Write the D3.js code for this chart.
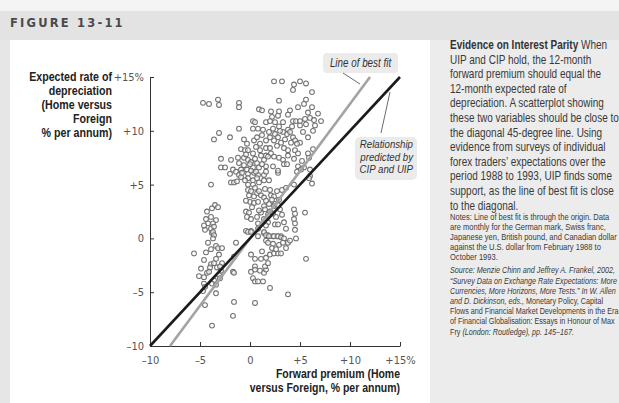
<!DOCTYPE html>
<html>
<head>
<meta charset="utf-8">
<script src="https://cdn.jsdelivr.net/npm/d3@7/dist/d3.min.js"></script>
<style>
  body { margin: 0; background: #fff; }
  svg { display: block; }
</style>
</head>
<body>
<script>
// Survey observations: [forward premium, expected depreciation], % per annum
const surveyPoints = [
  [2.4,14.6],[3.2,14.6],[4.4,14.3],[4.3,13.8],[5.0,14.6],[5.6,14.4],[6.2,13.6],
  [-4.7,12.6],[-4.1,12.5],[-3.2,12.9],[-3.1,12.4],[-1.1,12.6],[-1.1,12.2],[2.9,12.8],
  [5.6,12.9],[5.4,12.5],[4.8,12.2],[6.2,12.2],[0.9,12.0],[1.2,11.9],[2.1,11.8],[2.9,11.8],
  [2.2,11.3],[2.8,11.4],[3.8,11.5],[0.3,10.9],[0.5,10.8],[1.6,10.8],[2.0,10.9],[2.5,10.8],
  [3.3,10.8],[4.3,10.9],[4.6,10.9],[5.0,10.9],[5.5,11.1],[6.0,11.2],[6.4,11.0],[7.1,10.9],
  [5.0,10.5],[5.6,10.6],[6.5,10.5],[6.3,10.0],[-1.1,10.2],[0.3,10.2],[0.8,10.2],[1.3,10.1],
  [2.3,10.2],[2.9,10.4],[3.8,10.1],[-3.1,9.8],[-3.6,9.2],[-2.0,9.4],[-0.6,9.2],[0.4,9.1],
  [0.7,9.4],[1.6,9.1],[2.5,9.7],[2.4,9.1],[2.8,9.4],[3.1,8.9],[3.7,9.7],[4.3,9.4],[4.5,9.1],
  [5.0,8.9],[5.8,9.4],[4.1,8.9],[4.7,8.8],[1.0,8.8],[1.6,8.4],[2.0,8.4],[2.7,8.6],[3.4,8.4],
  [3.8,8.2],[4.5,8.2],[-0.9,8.3],[-0.5,8.2],[-0.2,8.2],[1.0,8.2],[0.3,7.9],[1.6,7.7],
  [2.1,7.9],[2.4,7.6],[3.8,7.7],[4.8,7.9],[5.8,7.9],[5.9,7.5],[-2.9,7.4],[-1.9,7.3],
  [-1.2,7.5],[-0.6,7.5],[-0.2,7.3],[-1.1,7.0],[-0.6,6.8],[0.1,7.1],[0.7,7.0],[1.4,7.3],
  [1.8,7.6],[2.9,7.5],[3.3,7.3],[3.4,6.9],[3.7,6.9],[-2.9,6.6],[-2.5,6.6],[-1.7,6.4],
  [-1.4,6.2],[-0.9,6.4],[-0.3,6.4],[0.3,6.6],[0.9,6.6],[1.6,6.7],[2.3,6.7],[-2.0,6.0],
  [-1.1,5.9],[-0.9,5.7],[-0.2,6.0],[0.4,6.1],[0.8,5.9],[1.4,5.9],[1.6,6.2],[2.8,6.1],
  [4.8,6.7],[5.4,6.6],[4.7,6.2],[5.1,6.4],[6.0,6.4],[6.0,5.8],[6.2,5.1],[5.9,5.6],
  [-1.9,5.2],[-1.6,5.2],[-1.3,5.3],[-0.2,5.6],[0.3,5.4],[0.7,5.6],[1.4,5.4],[1.9,5.4],
  [2.8,6.3],[-3.9,5.0],[-0.2,5.0],[0.3,5.0],[-0.2,4.5],[0.1,4.4],[0.5,4.7],[0.7,4.2],
  [-0.1,4.0],[0.4,3.9],[1.1,4.0],[1.4,3.8],[2.1,4.0],[2.7,4.4],[3.2,4.5],[3.6,4.7],
  [2.4,3.9],[2.9,3.6],[0.0,3.4],[0.4,3.3],[0.8,3.4],[1.4,3.0],[1.9,3.2],[2.5,3.2],
  [2.4,3.0],[2.8,3.1],[4.4,5.0],[4.4,2.7],[4.5,2.3],[4.4,1.8],[4.5,1.4],[5.5,2.4],
  [-3.5,3.1],[-3.2,2.9],[-4.3,2.5],[-3.9,2.0],[-4.4,1.8],[-3.4,1.7],[-4.2,1.4],[-3.7,1.4],
  [-4.5,0.8],[-3.9,0.9],[-3.6,1.1],[-3.8,0.5],[-0.4,2.5],[-0.1,2.4],[-0.3,2.0],[0.1,1.8],
  [0.7,2.0],[1.1,2.4],[1.5,2.7],[2.0,2.5],[1.8,2.2],[2.3,2.3],[1.4,1.8],[1.8,1.5],
  [2.5,1.3],[2.8,1.3],[3.4,1.5],[0.8,1.4],[1.6,1.2],[-0.4,0.7],[0.1,0.7],[0.8,0.9],
  [1.4,0.5],[1.8,0.3],[2.3,0.2],[2.7,0.2],[3.1,0.2],[3.6,0.9],[4.5,0.8],
  [-3.7,0.6],[-3.6,0.3],[-3.7,0.0],[-0.2,0.6],[0.1,0.6],[1.4,0.6],[1.6,0.3],[1.9,0.2],
  [2.4,0.2],[2.8,0.2],[3.1,0.1],[3.4,0.0],[1.6,-0.2],[1.8,-0.4],[2.3,-0.5],[2.9,-0.6],
  [3.3,-0.4],[3.8,-0.4],[4.6,0.0],[0.8,0.2],[-1.4,-0.4],[-3.4,-0.7],[-3.2,-0.9],
  [-2.8,-0.9],[-5.6,-1.4],[-4.4,-1.3],[-3.1,-1.5],[-1.6,-1.7],[0.1,-1.5],[0.5,-1.9],
  [1.1,-1.9],[1.6,-1.8],[2.0,-1.5],[2.4,-1.4],[2.8,-1.4],[3.1,-1.4],[5.6,-1.9],
  [-3.9,-2.4],[-3.6,-2.3],[-2.8,-2.3],[-4.0,-2.7],[-3.3,-2.7],[-3.0,-2.6],[-5.1,-3.5],
  [-4.6,-3.6],[-4.3,-3.2],[-4.1,-3.1],[-3.1,-3.4],[-3.0,-3.7],[-3.6,-3.9],[-4.6,-4.2],
  [-4.5,-4.5],[-4.7,-4.9],[-3.8,-4.2],[-3.4,-4.3],[-3.4,-5.1],[-4.5,-6.2],[-1.7,-3.1],
  [-1.6,-3.2],[0.1,-3.1],[0.5,-2.6],[0.5,-2.9],[1.0,-3.0],[1.4,-3.2],[1.6,-2.9],
  [1.5,-2.6],[1.8,-2.3],[0.3,-3.7],[0.5,-4.0],[0.8,-4.0],[1.3,-4.0],[2.0,-4.6],
  [3.8,-5.2],[-1.6,-5.9],[0.5,-6.0],[-1.7,-7.2],[-3.8,-8.1],
  // denser core, second reading
  [-0.4,7.8],[0.0,6.9],[0.5,7.4],[-0.8,6.1],[0.1,6.3],[0.6,6.2],[-0.5,5.4],[0.9,5.2],
  [1.2,6.9],[1.1,7.7],[0.6,8.5],[-0.3,8.8],[1.9,9.9],[3.3,9.9],[3.5,9.2],[4.0,9.9],
  [4.2,10.4],[3.0,10.0],[2.0,9.4],[1.2,9.6],[0.2,2.9],[0.9,2.6],[1.6,3.5],[2.2,3.6],
  [2.0,4.5],[1.5,4.6],[0.9,4.4],[-0.4,3.5],[3.0,2.7],[2.6,2.0],[3.2,2.2],[2.2,-0.9],
  [2.6,-1.0],[3.6,-0.9],[1.2,-1.2],[4.0,-0.2],[-4.2,-0.4],[-3.9,-1.0],[-4.6,-2.0],
  [-3.4,-1.9],[-2.9,-3.0],[-4.9,-2.8],[-3.8,2.8],[-4.6,1.2],[5.2,7.2],[4.4,7.4],
  [6.3,8.3],[5.3,9.9],[4.0,11.9],[5.8,11.7],[6.8,11.6]
];

const xTicks = [-10, -5, 0, 5, 10, 15];
const yTicks = [-10, -5, 0, 5, 10, 15];
const bestFitSlope = 1.25;          // line of best fit, through the origin
const bestFitRange = [-8, 12];      // forward premium span of the grey line
const diagonalRange = [-10, 15];    // 45-degree line, CIP and UIP

const yTitle = ["Expected rate of", "depreciation", "(Home versus", "Foreign", "% per annum)"];
const xTitle = ["Forward premium (Home", "versus Foreign, % per annum)"];
const fitLabel = ["Line of best fit"];
const diagLabel = ["Relationship", "predicted by", "CIP and UIP"];

const captionLines = [
  "UIP and CIP hold, the 12-month",
  "forward premium should equal the",
  "12-month expected rate of",
  "depreciation. A scatterplot showing",
  "these two variables should be close to",
  "the diagonal 45-degree line. Using",
  "evidence from surveys of individual",
  "forex traders’ expectations over the",
  "period 1988 to 1993, UIP finds some",
  "support, as the line of best fit is close",
  "to the diagonal."
];
const noteLines = [
  "Notes: Line of best fit is through the origin. Data",
  "are monthly for the German mark, Swiss franc,",
  "Japanese yen, British pound, and Canadian dollar",
  "against the U.S. dollar from February 1988 to",
  "October 1993."
];
// each source line is a list of [text, italic?] runs
const sourceLines = [
  [["Source: Menzie Chinn and Jeffrey A. Frankel, 2002,", true]],
  [["“Survey Data on Exchange Rate Expectations: More", true]],
  [["Currencies, More Horizons, More Tests.” In W. Allen", true]],
  [["and D. Dickinson, eds., ", true], ["Monetary Policy, Capital", false]],
  [["Flows and Financial Market Developments in the Era", false]],
  [["of Financial Globalisation: Essays in Honour of Max", false]],
  [["Fry ", false], ["(London: Routledge), pp. 145–167.", true]]
];

const W = 619, H = 403;
const FONT = "'Liberation Sans', Arial, sans-serif";
const NARROW = 0.82;   // horizontal squeeze to mimic the book's condensed face

const svg = d3.select("body").append("svg")
    .attr("width", W)
    .attr("height", H)
    .style("font-family", FONT);

// page background: header band, side strip, white plot panel, grey caption panel
svg.append("rect").attr("x", 0).attr("y", 0).attr("width", W).attr("height", H).attr("fill", "#f4f4f4");
svg.append("rect").attr("x", 0).attr("y", 11).attr("width", W).attr("height", 29).attr("fill", "#e3e3e3");
svg.append("rect").attr("x", 0).attr("y", 40).attr("width", 10).attr("height", H - 40).attr("fill", "#e6e6e6");
svg.append("rect").attr("x", 10).attr("y", 40).attr("width", 420).attr("height", H - 40).attr("fill", "#ffffff");
svg.append("rect").attr("x", 430).attr("y", 40).attr("width", W - 430).attr("height", H - 40).attr("fill", "#ececec");

svg.append("text")
    .attr("x", 10)
    .attr("y", 27)
    .attr("font-family", "'DejaVu Sans', sans-serif")
    .attr("font-weight", "bold")
    .attr("font-size", 11.5)
    .attr("letter-spacing", 2.2)
    .attr("fill", "#4a4a4a")
    .text("FIGURE 13-11");

// block of lines, squeezed horizontally around its anchor x
function narrowBlock(ax, y0, step, lines, opts) {
    const g = svg.append("g").attr("transform", `translate(${ax},0) scale(${NARROW},1)`);
    const t = g.append("text")
        .attr("text-anchor", opts.anchor || "start")
        .attr("font-size", opts.size)
        .attr("font-weight", opts.weight || "normal")
        .attr("font-style", opts.style || "normal")
        .attr("fill", opts.fill || "#333");
    t.selectAll("tspan")
        .data(lines)
        .join("tspan")
        .attr("x", 0)
        .attr("y", (d, i) => y0 + i * step)
        .text(d => d);
    return g;
}

// Scales
const x = d3.scaleLinear().domain([-10, 15]).range([150, 400]);
const y = d3.scaleLinear().domain([-10, 15]).range([346, 77]);

const fmt = (d, last) => {
    let s = d > 0 ? "+" + d : d < 0 ? "–" + Math.abs(d) : "0";
    return last ? s + "%" : s;
};

// Axes (ticks point inwards)
const xAxis = d3.axisBottom(x).tickValues(xTicks).tickSizeInner(-4).tickSizeOuter(0)
    .tickFormat(d => fmt(d, d === 15));
const yAxis = d3.axisLeft(y).tickValues(yTicks).tickSizeInner(-4).tickSizeOuter(0)
    .tickFormat(d => fmt(d, d === 15));

const gx = svg.append("g").attr("transform", `translate(0,${y(-10)})`).call(xAxis);
const gy = svg.append("g").attr("transform", `translate(${x(-10)},0)`).call(yAxis);

[gx, gy].forEach(g => {
    g.select(".domain").attr("stroke", "#333").attr("stroke-width", 1);
    g.selectAll(".tick line").attr("stroke", "#333");
    g.selectAll(".tick text")
        .attr("font-family", "'DejaVu Sans Condensed', 'DejaVu Sans', sans-serif")
        .attr("font-size", 11)
        .attr("fill", "#555");
});
gx.selectAll(".tick text").attr("y", 10);
gy.selectAll(".tick text").attr("x", -6);
gx.select(".tick:first-of-type line").remove();
gy.select(".tick:first-of-type line").remove();

// Axis titles
narrowBlock(112, 81.5, 13.9, yTitle, { anchor: "end", size: 13, weight: "bold", fill: "#222" });
narrowBlock(400, 378, 14, xTitle, { anchor: "end", size: 12.8, weight: "bold", fill: "#222" });

// Scatter
svg.append("g")
    .selectAll("circle")
    .data(surveyPoints)
    .join("circle")
    .attr("cx", d => x(d[0]))
    .attr("cy", d => y(d[1]))
    .attr("r", 2.4)
    .attr("fill", "#fff")
    .attr("fill-opacity", 0.6)
    .attr("stroke", "#707070")
    .attr("stroke-width", 1.05);

// Line of best fit (grey) and 45-degree line (black)
svg.append("line")
    .attr("x1", x(bestFitRange[0])).attr("y1", y(bestFitSlope * bestFitRange[0]))
    .attr("x2", x(bestFitRange[1])).attr("y2", y(bestFitSlope * bestFitRange[1]))
    .attr("stroke", "#a3a3a3")
    .attr("stroke-width", 2.6);

svg.append("line")
    .attr("x1", x(diagonalRange[0])).attr("y1", y(diagonalRange[0]))
    .attr("x2", x(diagonalRange[1])).attr("y2", y(diagonalRange[1]))
    .attr("stroke", "#1b1b1b")
    .attr("stroke-width", 2.6);

// Callouts
svg.append("rect")
    .attr("x", 323).attr("y", 53).attr("width", 75).attr("height", 20).attr("rx", 4)
    .attr("fill", "#ebebeb");
narrowBlock(360.5, 67, 0, fitLabel, { anchor: "middle", size: 12, style: "italic", fill: "#333" });
svg.append("line")
    .attr("x1", 343).attr("y1", 73).attr("x2", 360).attr("y2", 84)
    .attr("stroke", "#444").attr("stroke-width", 0.8);

svg.append("rect")
    .attr("x", 355).attr("y", 137).attr("width", 62).attr("height", 43).attr("rx", 5)
    .attr("fill", "#ebebeb");
narrowBlock(413, 148.5, 12.4, diagLabel, { anchor: "end", size: 11.8, style: "italic", fill: "#333" });
svg.append("line")
    .attr("x1", 390).attr("y1", 92).attr("x2", 381).attr("y2", 133)
    .attr("stroke", "#444").attr("stroke-width", 0.8);

// Caption panel
const capG = svg.append("g").attr("transform", `translate(450,0) scale(${NARROW},1)`);
const head = capG.append("text").attr("font-size", 12.2).attr("fill", "#3a3a3a");
head.append("tspan").attr("x", 0).attr("y", 49)
    .attr("font-weight", "bold").attr("fill", "#333")
    .text("Evidence on Interest Parity");
head.append("tspan").text(" When");
narrowBlock(450, 63.6, 14.6, captionLines, { size: 12.2, fill: "#3a3a3a" });
narrowBlock(450, 220, 9.9, noteLines, { size: 9.2, fill: "#3a3a3a" });

const srcG = svg.append("g").attr("transform", `translate(450,0) scale(${NARROW},1)`);
sourceLines.forEach((runs, i) => {
    const t = srcG.append("text")
        .attr("x", 0)
        .attr("y", 273.5 + i * 10.2)
        .attr("font-size", 8.8)
        .attr("fill", "#3a3a3a");
    runs.forEach(r => {
        t.append("tspan")
            .attr("font-style", r[1] ? "italic" : "normal")
            .text(r[0]);
    });
});
</script>
</body>
</html>
